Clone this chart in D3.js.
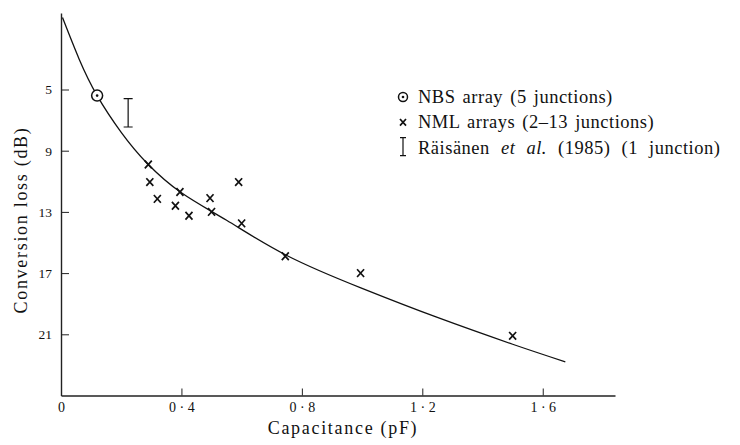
<!DOCTYPE html>
<html>
<head>
<meta charset="utf-8">
<script src="https://cdn.jsdelivr.net/npm/d3@7"></script>
<style>
body { margin: 0; background: #fff; }
svg text { font-family: "Liberation Serif", "Times New Roman", serif; fill: #111; }
.axis path, .axis line { stroke: #222; }
</style>
</head>
<body>
<div id="chart-area"></div>
<script>
// NML arrays (x markers)
var nmlCap  = [0.29, 0.295, 0.32, 0.395, 0.38, 0.425, 0.495, 0.5, 0.59, 0.6, 0.745, 0.995, 1.5];
var nmlLoss = [9.9, 11.05, 12.15, 11.7, 12.6, 13.25, 12.1, 13.0, 11.05, 13.75, 15.9, 17.0, 21.1];

// NBS array (circled dot)
var nbsCap = [0.12];
var nbsLoss = [5.4];

// Räisänen et al. (1985), range bar
var raiCap = [0.223];
var raiLow = [5.6];
var raiHigh = [7.45];

// theory curve
var curveCap  = [0.005, 0.06, 0.12, 0.2, 0.285, 0.4, 0.55, 0.75, 1.0, 1.25, 1.5, 1.675];
var curveLoss = [0.3, 3.0, 5.4, 7.8, 9.8, 11.75, 13.55, 15.85, 18.0, 19.9, 21.65, 22.8];

var xTicks = [0, 0.4, 0.8, 1.2, 1.6];
var yTicks = [5, 9, 13, 17, 21];

var legendLabels = [
    [["NBS array (5 junctions)", "normal"]],
    [["NML arrays (2\u201313 junctions)", "normal"]],
    [["R\u00e4is\u00e4nen ", "normal"], ["et al.", "italic"], [" (1985) (1 junction)", "normal"]]
];

var margin = { top: 13, right: 125, bottom: 49.5, left: 61 },
    width = 740 - margin.left - margin.right,
    height = 445 - margin.top - margin.bottom;

var svg = d3.select("#chart-area")
    .append("svg")
    .attr("width", 740)
    .attr("height", 445);

var g = svg.append("g")
    .attr("transform", "translate(" + margin.left + "," + margin.top + ")");

var x = d3.scaleLinear().domain([0, 1.84]).range([0, width]);
var y = d3.scaleLinear().domain([0, 25]).range([0, height]);

var fmt = (d) => d === 0 ? "0" : d3.format(".1f")(d).replace(".", " \u00b7 ");

// axes, ticks point inward
var xAxis = g.append("g")
    .attr("class", "axis")
    .attr("transform", "translate(0," + height + ")")
    .call(d3.axisBottom(x).tickValues(xTicks).tickFormat(fmt).tickSizeInner(-7).tickSizeOuter(0).tickPadding(7));
xAxis.select(".domain").attr("stroke-width", 1.4);
xAxis.selectAll("text").style("font-size", "14px").attr("fill", "#111");

var yAxis = g.append("g")
    .attr("class", "axis")
    .call(d3.axisLeft(y).tickValues(yTicks).tickSizeInner(-8).tickSizeOuter(0).tickPadding(9));
yAxis.select(".domain").attr("stroke-width", 1.4);
yAxis.selectAll("text").style("font-size", "13.5px").attr("fill", "#111");

// curve
var curvePts = curveCap.map((c, i) => [c, curveLoss[i]]);
g.append("path")
    .datum(curvePts)
    .attr("fill", "none")
    .attr("stroke", "#111")
    .attr("stroke-width", 1.3)
    .attr("d", d3.line().x((d) => x(d[0])).y((d) => y(d[1])).curve(d3.curveNatural));

function cross(sel, s) {
    sel.append("path")
        .attr("d", "M" + (-s) + "," + (-s * 1.1) + "L" + s + "," + (s * 1.1) + "M" + s + "," + (-s * 1.1) + "L" + (-s) + "," + (s * 1.1))
        .attr("stroke", "#111")
        .attr("stroke-width", 1.7)
        .attr("fill", "none");
}

function target(sel, r) {
    sel.append("circle").attr("r", r).attr("fill", "#fff").attr("stroke", "#111").attr("stroke-width", 1.5);
    sel.append("circle").attr("r", 1.3).attr("fill", "#111");
}

function rangeBar(sel, y0, y1, w) {
    sel.append("path")
        .attr("d", "M0," + y0 + "V" + y1 + "M" + (-w) + "," + y0 + "H" + w + "M" + (-w) + "," + y1 + "H" + w)
        .attr("stroke", "#111")
        .attr("stroke-width", 1.2)
        .attr("fill", "none");
}

// NML points
g.selectAll(".nml")
    .data(nmlCap.map((c, i) => [c, nmlLoss[i]]))
    .enter()
    .append("g")
    .attr("class", "nml")
    .attr("transform", (d) => "translate(" + x(d[0]) + "," + y(d[1]) + ")")
    .each(function () { cross(d3.select(this), 3.5); });

// NBS point
g.selectAll(".nbs")
    .data(nbsCap.map((c, i) => [c, nbsLoss[i]]))
    .enter()
    .append("g")
    .attr("class", "nbs")
    .attr("transform", (d) => "translate(" + x(d[0]) + "," + y(d[1]) + ")")
    .each(function () { target(d3.select(this), 5.5); });

// Räisänen bar
raiCap.forEach((c, i) => {
    var bar = g.append("g").attr("transform", "translate(" + x(c) + ",0)");
    rangeBar(bar, y(raiLow[i]), y(raiHigh[i]), 4.5);
});

// legend
var legend = svg.append("g").attr("transform", "translate(403,103)");
legendLabels.forEach((parts, i) => {
    var row = legend.append("g").attr("transform", "translate(0," + (i * 25.3) + ")");
    var sym = row.append("g").attr("transform", "translate(0,-6)");
    if (i === 0) target(sym, 4.5);
    if (i === 1) cross(sym.attr("transform", "translate(0,-6)"), 3);
    if (i === 2) rangeBar(sym.attr("transform", "translate(0,0)"), -16, 2, 3);
    var t = row.append("text")
        .attr("x", 15)
        .style("font-size", "18.5px")
        .style("letter-spacing", "0.5px")
        .style("word-spacing", i === 2 ? "6px" : "2px");
    parts.forEach((p) => t.append("tspan").style("font-style", p[1]).text(p[0]));
});

// axis titles
svg.append("text")
    .attr("x", 343)
    .attr("y", 434)
    .attr("text-anchor", "middle")
    .style("font-size", "18px")
    .style("letter-spacing", "1.7px")
    .text("Capacitance (pF)");

svg.append("text")
    .attr("transform", "translate(27,220) rotate(-90)")
    .attr("text-anchor", "middle")
    .style("font-size", "18px")
    .style("letter-spacing", "1.7px")
    .text("Conversion loss (dB)");
</script>
</body>
</html>
